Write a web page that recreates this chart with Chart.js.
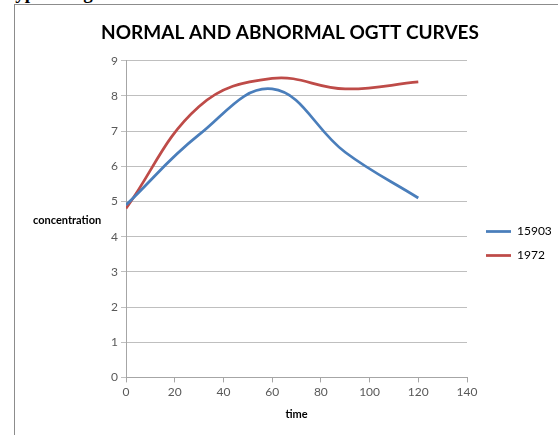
<!DOCTYPE html>
<html><head><meta charset="utf-8">
<script src="https://cdn.jsdelivr.net/npm/chart.js@4.4.1/dist/chart.umd.min.js"></script>
<style>
html,body{margin:0;padding:0;background:#fff;overflow:hidden;width:558px;height:435px;}
#frame{position:absolute;left:14px;top:4px;width:600px;height:500px;border-left:1.5px solid #8c8c8c;border-top:1.5px solid #8c8c8c;}
#doc{position:absolute;left:4px;top:-18px;font:bold 19px "Liberation Serif",serif;color:#000;white-space:nowrap;}
#wrap{position:absolute;left:0;top:0;width:558px;height:435px;}
#ylab{position:absolute;left:33px;top:213px;font:bold 11px Lato,sans-serif;color:#000;}
</style></head>
<body>
<div id="doc">Typical Ogtt Curves</div>
<div id="frame"></div>
<div id="wrap"><canvas id="c" width="558" height="435"></canvas></div>
<div id="ylab">concentration</div>
<script>
const times = [0, 30, 60, 90, 120];
const series15903 = [4.9, 6.9, 8.2, 6.4, 5.1];
const series1972 = [4.8, 7.7, 8.5, 8.2, 8.4];
const seriesNames = ["15903", "1972"];
const xTicks = [0, 20, 40, 60, 80, 100, 120, 140];
const yTicks = [0, 1, 2, 3, 4, 5, 6, 7, 8, 9];

const toPts = (vals) => times.map((t, i) => ({x: t, y: vals[i]}));

const legendTweak = {
  id: 'legendTweak',
  beforeLayout(chart) {
    const lg = chart.legend;
    if (lg && !lg._patched) {
      const orig = lg.fit.bind(lg);
      lg.fit = function () { orig(); this.width = 91; };
      lg._patched = true;
    }
  },
  afterLayout(chart) {
    const lg = chart.legend;
    if (lg) { lg.top += 28; lg.bottom += 28; lg.left += 7; lg.right += 7; }
  }
};

new Chart(document.getElementById('c'), {
  type: 'line',
  data: {
    datasets: [
      {label: seriesNames[0], data: toPts(series15903), borderColor: '#4A7EBB', backgroundColor: '#4A7EBB', borderWidth: 2.75, pointRadius: 0, tension: 0.4},
      {label: seriesNames[1], data: toPts(series1972), borderColor: '#BE4B48', backgroundColor: '#BE4B48', borderWidth: 2.75, pointRadius: 0, tension: 0.4}
    ]
  },
  options: {
    responsive: false,
    animation: false,
    layout: {padding: {left: 22, right: 0, top: 6, bottom: 10}},
    plugins: {
      title: {display: true, text: 'NORMAL AND ABNORMAL OGTT CURVES', color: '#000', font: {family: 'Lato', size: 19, weight: 'bold'}, padding: {top: 15, bottom: 17}},
      legend: {position: 'right', labels: {usePointStyle: true, pointStyle: 'line', pointStyleWidth: 25, color: '#000', font: {family: 'Lato', size: 12}, padding: 12}},
      tooltip: {enabled: false}
    },
    scales: {
      x: {
        type: 'linear', min: 0, max: 140,
        afterBuildTicks: (s) => { s.ticks = xTicks.map(v => ({value: v})); },
        grid: {drawOnChartArea: false, color: '#a6a6a6', tickLength: 5},
        border: {color: '#a6a6a6'},
        ticks: {color: '#595959', font: {family: 'Lato', size: 12}, padding: 3},
        title: {display: true, text: 'time', color: '#000', font: {family: 'Lato', size: 11, weight: 'bold'}, padding: {top: 5}}
      },
      y: {
        min: 0, max: 9,
        afterBuildTicks: (s) => { s.ticks = yTicks.map(v => ({value: v})); },
        afterFit: (s) => { s.width = 104; },
        grid: {color: '#bfbfbf', tickLength: 5},
        border: {color: '#a6a6a6'},
        ticks: {color: '#595959', font: {family: 'Lato', size: 12}, padding: 3}
      }
    }
  },
  plugins: [legendTweak]
});
</script>
</body></html>
